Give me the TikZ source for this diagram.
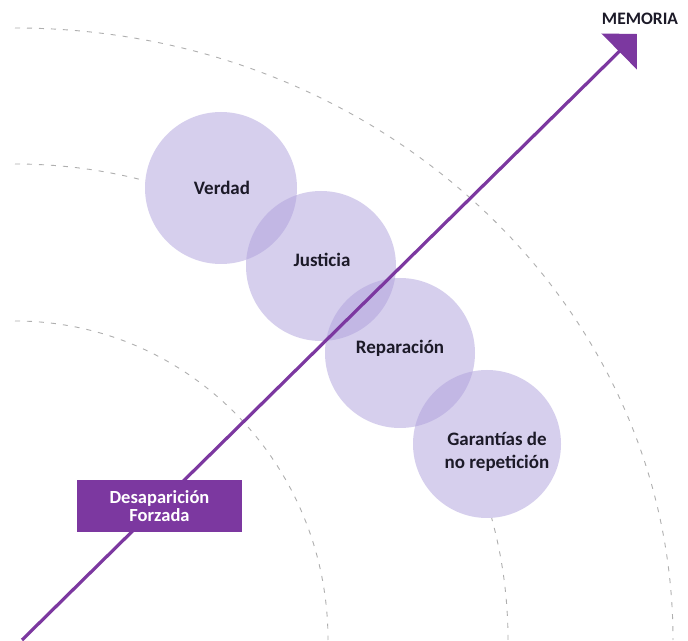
\documentclass[tikz,border=0pt]{standalone}
\usepackage{fontspec}
\setmainfont{Carlito}
\usetikzlibrary{arrows.meta}
\definecolor{purp}{RGB}{124,56,160}
\definecolor{lav}{RGB}{175,161,221}
\definecolor{arcgray}{RGB}{175,175,175}
\definecolor{txt}{RGB}{28,26,40}
\begin{document}
\begin{tikzpicture}[x=1pt,y=1pt,
  guide/.style={arcgray, line width=0.9pt, dash pattern=on 5pt off 7pt},
  disc/.style={circle, fill=lav, fill opacity=0.5, text opacity=1, inner sep=0pt},
  lbl/.style={text=txt, font=\bfseries\fontsize{19}{23}\selectfont, align=center},
  tagbox/.style={fill=purp, text=white, minimum width=165pt, minimum height=52pt,
    inner sep=0pt, align=center, font=\bfseries\fontsize{18.5}{18}\selectfont},
  axis/.style={purp, line width=3.2pt, -{Triangle[length=25pt,width=50pt]}}]
\useasboundingbox (0,0) rectangle (688,640);
\fill[white] (0,0) rectangle (688,640);
% dashed guide arcs
\draw[guide] (15,612) arc[start angle=90, end angle=0, x radius=658, y radius=612];
\draw[guide] (15,476) arc[start angle=90, end angle=0, x radius=493, y radius=476];
\draw[guide] (15,319) arc[start angle=90, end angle=0, x radius=313, y radius=319];
% white underlay to hide arcs
\fill[white] (221,452) circle (76) (321,374) circle (75) (400,287) circle (75) (487,196) circle (74);
% circles
\node[disc, minimum size=152pt] (v) at (221,452) {};
\node[disc, minimum size=150pt] (j) at (321,374) {};
\node[disc, minimum size=150pt] (r) at (400,287) {};
\node[disc, minimum size=148pt] (g) at (487,196) {};
% axis
\coordinate (start) at (22,0);
\coordinate (tip) at (637,606);
\draw[axis] (start) -- (tip);
% labels
\node[lbl] (vl) at (222,452) {Verdad};
\node[lbl] (jl) at (322,380) {Justicia};
\node[lbl] (rl) at (400,292) {Reparación};
\node[lbl] (gl) at (497,188) {Garantías de\\no repetición};
\node[tagbox] (df) at (159.5,134) {Desaparición\\Forzada};
\node[text=txt, font=\bfseries\fontsize{17.5}{18}\selectfont] (mem) at (640,621) {MEMORIA};
\end{tikzpicture}
\end{document}
